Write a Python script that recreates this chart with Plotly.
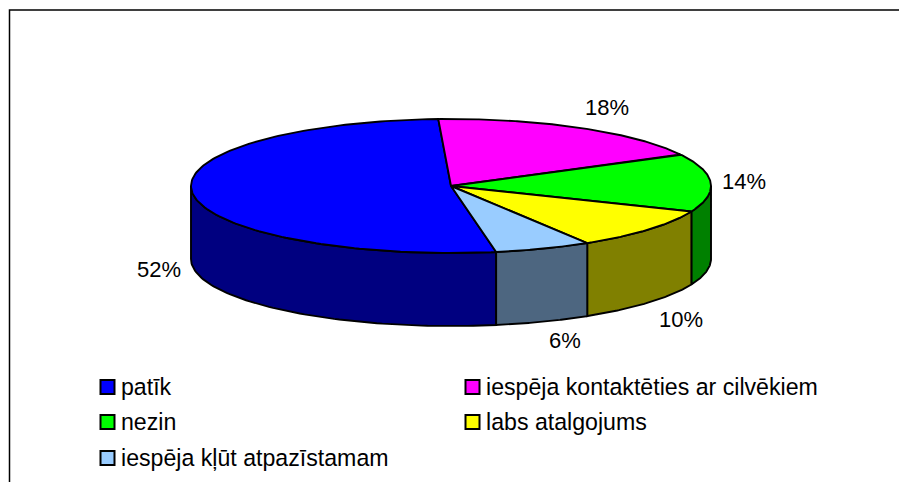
import numpy as np
import plotly.graph_objects as go

categories = ["patīk", "iespēja kontaktēties ar cilvēkiem", "nezin", "labs atalgojums", "iespēja kļūt atpazīstamam"]
values = [52, 18, 14, 10, 6]
top_colors = ["#0000FF", "#FF00FF", "#00FF00", "#FFFF00", "#99CCFF"]
side_colors = ["#000080", "#800080", "#008000", "#808000", "#4D6680"]

W, H = 899, 482
CX, CY, RX, RY, DEPTH = 451, 186, 260, 67, 73
START = 170.0
FONT = "Liberation Sans, Arial, sans-serif"
FS_LABEL = 22
FS_LEGEND = 23.15
LW = 1.9

label_pos = [(159, 271.5), (607, 109.5), (744, 183.5), (681, 321.5), (565, 342.5)]
legend_pos = [(107.5, 387), (472.5, 387), (107.5, 422), (472.5, 422), (107.5, 458)]


def pt(deg, dy=0.0):
    t = np.radians(deg)
    return CX + RX * np.sin(t), CY - RY * np.cos(t) + dy


fig = go.Figure()
total = sum(values)
angles = np.concatenate([[0], np.cumsum(values)]) / total * 360 + START

# side walls
for i, cat in enumerate(categories):
    a0, a1 = angles[i], angles[i + 1]
    for shift in (0, 360, -360):
        lo, hi = max(a0, 90 + shift), min(a1, 270 + shift)
        if hi > lo:
            ts = np.linspace(lo, hi, 80)
            x1, y1 = pt(ts)
            x2, y2 = pt(ts[::-1], DEPTH)
            fig.add_trace(go.Scatter(
                x=np.r_[x1, x2, x1[0]], y=np.r_[y1, y2, y1[0]],
                mode="lines", fill="toself", fillcolor=side_colors[i],
                line=dict(color="black", width=LW), name=cat,
                hoverinfo="name", showlegend=False))

# top faces
for i, cat in enumerate(categories):
    ts = np.linspace(angles[i], angles[i + 1], 160)
    x1, y1 = pt(ts)
    fig.add_trace(go.Scatter(
        x=np.r_[CX, x1, CX], y=np.r_[CY, y1, CY],
        mode="lines", fill="toself", fillcolor=top_colors[i],
        line=dict(color="black", width=LW), name=cat,
        hoverinfo="name", showlegend=False))

# data labels
fig.add_trace(go.Scatter(
    x=[p[0] for p in label_pos], y=[p[1] for p in label_pos],
    text=[f"{v}%" for v in values], mode="text", textposition="middle center",
    textfont=dict(family=FONT, size=FS_LABEL, color="black"),
    hoverinfo="skip", showlegend=False))

# legend swatches and names
for i, cat in enumerate(categories):
    x, y = legend_pos[i]
    fig.add_trace(go.Scatter(
        x=[x], y=[y], mode="markers",
        marker=dict(symbol="square", size=14, color=top_colors[i],
                    line=dict(color="black", width=2)),
        hoverinfo="skip", showlegend=False))
    fig.add_annotation(x=x + 11, y=y, text=cat, showarrow=False, xanchor="left",
                       yanchor="middle",
                       font=dict(family=FONT, size=FS_LEGEND, color="black"))

fig.update_layout(
    width=W, height=H, margin=dict(l=0, r=0, t=0, b=0),
    paper_bgcolor="white", plot_bgcolor="white",
    xaxis=dict(range=[0, W], visible=False, fixedrange=True),
    yaxis=dict(range=[H, 0], visible=False, fixedrange=True),
    shapes=[dict(type="path", path=f"M 9.5 {H} L 9.5 10 L {W} 10",
                 line=dict(color="black", width=1.5), xref="x", yref="y")],
)
fig.write_html("out.html", config={"displayModeBar": False},
               post_script="document.body.style.margin='0';document.documentElement.style.overflow='hidden';")
